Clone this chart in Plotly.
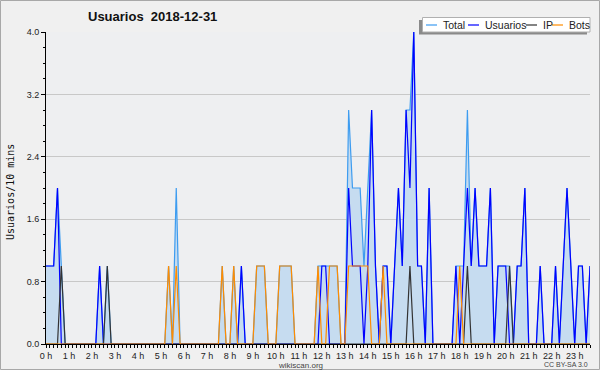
import plotly.graph_objects as go

# ---------------- data (10-minute slots, 0:00 .. 23:40) ----------------
slot = list(range(143))

total = [1, 1, 1, 2, 1, 0,  0, 0, 0, 0, 0, 0,  0, 0, 1, 0, 1, 0,  0, 0, 0, 0, 0, 0,
         0, 0, 0, 0, 0, 0,  0, 0, 1, 0, 2, 0,  0, 0, 0, 0, 0, 0,  0, 0, 0, 0, 1, 0,
         0, 1, 0, 1, 0, 0,  0, 1, 1, 1, 0, 0,  0, 1, 1, 1, 1, 0,  0, 0, 0, 0, 0, 1,
         1, 1, 1, 1, 1, 0,  0, 3, 2, 2, 2, 1,  2, 3, 1, 0, 1, 1,  0, 1, 2, 1, 3, 3,
         4, 1, 1, 0, 2, 0,  0, 0, 0, 0, 0, 1,  1, 1, 3, 1, 2, 1,  1, 1, 2, 0, 1, 1,
         1, 1, 0, 1, 1, 2,  0, 0, 0, 1, 0, 0,  0, 1, 0, 1, 2, 1,  0, 1, 1, 0, 1]

usuarios = [1, 1, 1, 2, 0, 0,  0, 0, 0, 0, 0, 0,  0, 0, 1, 0, 0, 0,  0, 0, 0, 0, 0, 0,
            0, 0, 0, 0, 0, 0,  0, 0, 0, 0, 0, 0,  0, 0, 0, 0, 0, 0,  0, 0, 0, 0, 0, 0,
            0, 0, 0, 1, 0, 0,  0, 0, 0, 0, 0, 0,  0, 0, 0, 0, 0, 0,  0, 0, 0, 0, 0, 0,
            1, 1, 0, 0, 0, 0,  0, 2, 1, 1, 1, 0,  1, 3, 1, 0, 1, 1,  0, 1, 2, 1, 3, 2,
            4, 1, 1, 0, 2, 0,  0, 0, 0, 0, 0, 1,  0, 1, 2, 1, 2, 1,  1, 1, 2, 0, 1, 1,
            1, 0, 0, 1, 1, 2,  0, 0, 0, 1, 0, 0,  0, 1, 0, 1, 2, 1,  0, 1, 1, 0, 1]

ip = [0, 0, 0, 0, 1, 0,  0, 0, 0, 0, 0, 0,  0, 0, 0, 0, 1, 0,  0, 0, 0, 0, 0, 0,
      0, 0, 0, 0, 0, 0,  0, 0, 0, 0, 0, 0,  0, 0, 0, 0, 0, 0,  0, 0, 0, 0, 0, 0,
      0, 0, 0, 0, 0, 0,  0, 0, 0, 0, 0, 0,  0, 0, 0, 0, 0, 0,  0, 0, 0, 0, 0, 0,
      0, 0, 0, 0, 0, 0,  0, 0, 0, 0, 0, 0,  0, 0, 0, 0, 0, 0,  0, 0, 0, 0, 0, 1,
      0, 0, 0, 0, 0, 0,  0, 0, 0, 0, 0, 0,  0, 0, 1, 0, 0, 0,  0, 0, 0, 0, 0, 0,
      0, 1, 0, 0, 0, 0,  0, 0, 0, 0, 0, 0,  0, 0, 0, 0, 0, 0,  0, 0, 0, 0, 0]

bots = [0, 0, 0, 0, 0, 0,  0, 0, 0, 0, 0, 0,  0, 0, 0, 0, 0, 0,  0, 0, 0, 0, 0, 0,
        0, 0, 0, 0, 0, 0,  0, 0, 1, 0, 1, 0,  0, 0, 0, 0, 0, 0,  0, 0, 0, 0, 1, 0,
        0, 1, 0, 0, 0, 0,  0, 1, 1, 1, 0, 0,  0, 1, 1, 1, 1, 0,  0, 0, 0, 0, 0, 1,
        0, 0, 1, 1, 1, 0,  0, 1, 1, 1, 1, 1,  1, 0, 0, 0, 1, 0,  0, 0, 0, 0, 0, 0,
        0, 0, 0, 0, 0, 0,  0, 0, 0, 0, 0, 0,  1, 0, 0, 0, 0, 0,  0, 0, 0, 0, 0, 0,
        0, 0, 0, 0, 0, 0,  0, 0, 0, 0, 0, 0,  0, 0, 0, 0, 0, 0,  0, 0, 0, 0, 0]

hour_slots = [0, 6, 12, 18, 24, 30, 36, 42, 48, 54, 60, 66,
              72, 78, 84, 90, 96, 102, 108, 114, 120, 126, 132, 138]
hour_labels = ["0 h", "1 h", "2 h", "3 h", "4 h", "5 h", "6 h", "7 h", "8 h", "9 h",
               "10 h", "11 h", "12 h", "13 h", "14 h", "15 h", "16 h", "17 h",
               "18 h", "19 h", "20 h", "21 h", "22 h", "23 h"]

series_names = ["Total", "Usuarios", "IP", "Bots"]
series_colors = ["#3d9cf0", "#0000ff", "#333333", "#ff8c00"]

# ---------------- geometry helpers (pixels -> paper) ----------------
W, H = 600, 370
ML, MR, MT, MB = 46, 10, 32, 26
PW, PH = W - ML - MR, H - MT - MB


def px(x):
    return (x - ML) / PW


def py(y):
    return (H - MB - y) / PH


FONT = "Liberation Sans, Arial, Helvetica, sans-serif"

fig = go.Figure()
fig.add_trace(go.Scatter(x=slot, y=total, mode="lines", name="Total",
                         line=dict(color=series_colors[0], width=1.2),
                         fill="tozeroy", fillcolor="#c6dcf0"))
fig.add_trace(go.Scatter(x=slot, y=usuarios, mode="lines", name="Usuarios",
                         line=dict(color=series_colors[1], width=1.2)))
fig.add_trace(go.Scatter(x=slot, y=ip, mode="lines", name="IP",
                         line=dict(color=series_colors[2], width=1.2)))
fig.add_trace(go.Scatter(x=slot, y=bots, mode="lines", name="Bots",
                         line=dict(color=series_colors[3], width=1.2)))

shapes = []
annotations = []

# outer frame
shapes.append(dict(type="rect", xref="paper", yref="paper",
                   x0=px(0.5), x1=px(W - 0.5), y0=py(H - 0.5), y1=py(0.5),
                   line=dict(color="#a8a8a8", width=1), fillcolor="rgba(0,0,0,0)",
                   layer="above"))

# manual legend: shadow + box
shapes.append(dict(type="rect", xref="paper", yref="paper",
                   x0=px(419), x1=px(587), y0=py(34.5), y1=py(20),
                   line=dict(width=0), fillcolor="#8a8a8a", layer="above"))
shapes.append(dict(type="rect", xref="paper", yref="paper",
                   x0=px(422.5), x1=px(590), y0=py(32), y1=py(17.5),
                   line=dict(color="#b0b0b0", width=1), fillcolor="#ffffff",
                   layer="above"))
leg_line_x = [426, 468, 526, 552]
leg_text_x = [441, 483, 541, 567]
for name, col, lx, tx in zip(series_names, series_colors, leg_line_x, leg_text_x):
    shapes.append(dict(type="line", xref="paper", yref="paper",
                       x0=px(lx), x1=px(lx + 11), y0=py(25), y1=py(25),
                       line=dict(color=col, width=1.2), layer="above"))
    annotations.append(dict(text=name, xref="paper", yref="paper",
                            x=px(tx), y=py(25), xanchor="left", yanchor="middle",
                            showarrow=False, font=dict(family=FONT, size=10.5, color="#222")))

# title
annotations.append(dict(text="<b>Usuarios\u00a0\u00a02018-12-31</b>", xref="paper", yref="paper",
                        x=px(152), y=py(17), xanchor="center", yanchor="middle",
                        showarrow=False, font=dict(family=FONT, size=13, color="#111")))
# y title
annotations.append(dict(text="Usuarios/10 mins", xref="paper", yref="paper",
                        x=px(10), y=py(192), xanchor="center", yanchor="middle",
                        textangle=-90, showarrow=False,
                        font=dict(family="DejaVu Sans Mono, monospace", size=10, color="#111")))
# footer
annotations.append(dict(text="wikiscan.org", xref="paper", yref="paper",
                        x=px(300), y=py(365), xanchor="center", yanchor="middle",
                        showarrow=False, font=dict(family=FONT, size=8, color="#444")))
annotations.append(dict(text="CC BY-SA 3.0", xref="paper", yref="paper",
                        x=px(590), y=py(364), xanchor="right", yanchor="middle",
                        showarrow=False, font=dict(family=FONT, size=7, color="#444")))

fig.update_layout(
    width=W, height=H,
    margin=dict(l=ML, r=MR, t=MT, b=MB, pad=0, autoexpand=False),
    paper_bgcolor="#f0f0f0", plot_bgcolor="#eeeff1",
    showlegend=False,
    shapes=shapes, annotations=annotations,
    font=dict(family=FONT, size=10, color="#222"),
)
fig.update_xaxes(
    automargin=False,
    range=[0, 142], tickmode="array", tickvals=hour_slots, ticktext=hour_labels,
    ticks="outside", ticklen=3, tickcolor="#000", tickwidth=1,
    showline=True, linecolor="#000", linewidth=1,
    showgrid=False, zeroline=False, fixedrange=True,
    tickfont=dict(family=FONT, size=9, color="#222"),
    minor=dict(tickmode="linear", tick0=0, dtick=1, ticks="outside", ticklen=3,
               tickcolor="#000", showgrid=False),
)
fig.update_yaxes(
    automargin=False,
    range=[0, 4], tickmode="linear", tick0=0, dtick=0.8, tickformat=".1f",
    ticks="outside", ticklen=4, tickcolor="#000",
    showline=True, linecolor="#000", linewidth=1,
    showgrid=True, gridcolor="#c8c8c8", gridwidth=1, zeroline=False,
    tickfont=dict(family=FONT, size=9, color="#222"),
    minor=dict(tickmode="linear", tick0=0, dtick=0.2, ticks="outside", ticklen=2,
               tickcolor="#000", showgrid=False),
)

fig.write_html("out.html",
               config={"displayModeBar": False, "staticPlot": True},
               post_script="document.body.style.margin='0';document.body.style.overflow='hidden';")
